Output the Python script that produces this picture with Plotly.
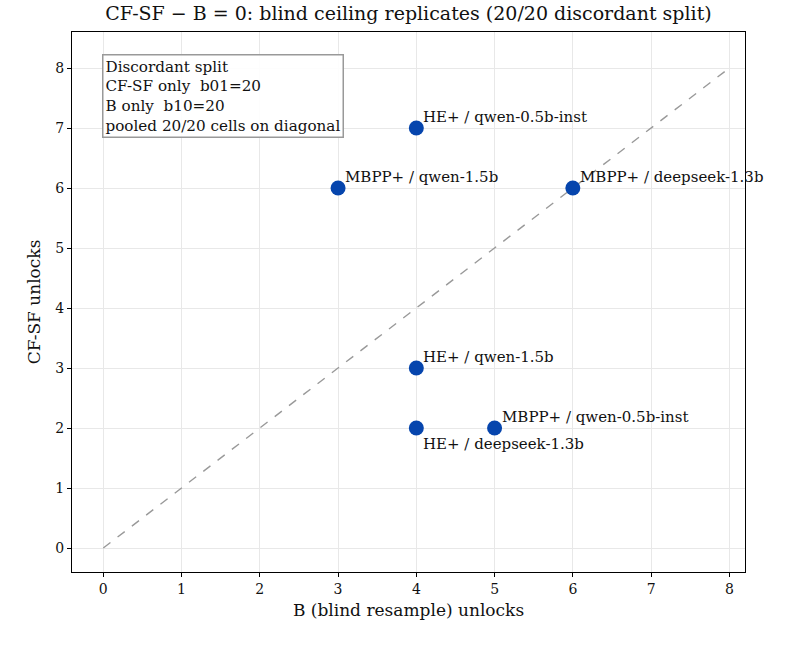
import plotly.graph_objects as go

b_unlocks = [4, 3, 6, 4, 4, 5]
cfsf_unlocks = [7, 6, 6, 3, 2, 2]
labels = ["HE+ / qwen-0.5b-inst", "MBPP+ / qwen-1.5b", "MBPP+ / deepseek-1.3b",
          "HE+ / qwen-1.5b", "HE+ / deepseek-1.3b", "MBPP+ / qwen-0.5b-inst"]
below = [False, False, False, False, True, False]
diag = [0, 8]
ticks = list(range(0, 9))

FONT = "DejaVu Serif"
fig = go.Figure()
fig.add_trace(go.Scatter(x=diag, y=diag, mode="lines",
                         line=dict(color="#999999", width=1.4, dash="dash"),
                         hoverinfo="skip", showlegend=False))
fig.add_trace(go.Scatter(x=b_unlocks, y=cfsf_unlocks, mode="markers",
                         marker=dict(color="#0645AD", size=15),
                         showlegend=False))
for x, y, t, bl in zip(b_unlocks, cfsf_unlocks, labels, below):
    fig.add_annotation(x=x, y=y, text=t, showarrow=False, xanchor="left",
                       yanchor="top" if bl else "bottom",
                       xshift=5, yshift=-5 if bl else 0,
                       font=dict(family=FONT, size=15, color="#111111"))

fig.add_annotation(xref="paper", yref="paper", x=0.044, y=0.96,
                   xanchor="left", yanchor="top", align="left", showarrow=False,
                   text="Discordant split<br>CF-SF only  b01=20<br>B only  b10=20<br>pooled 20/20 cells on diagonal",
                   font=dict(family=FONT, size=15.2, color="#111111"),
                   bordercolor="#999999", borderwidth=1.5, borderpad=2,
                   bgcolor="rgba(255,255,255,0.9)")

axis_common = dict(showline=True, linecolor="black", linewidth=1.3, mirror=True,
                   ticks="outside", ticklen=4, tickcolor="black",
                   showgrid=True, gridcolor="#e8e8e8", gridwidth=1, zeroline=False,
                   tickfont=dict(family=FONT, size=14, color="#111111"),
                   tickvals=ticks)
fig.update_xaxes(range=[-0.4, 8.2], title=dict(text="B (blind resample) unlocks",
                 font=dict(family=FONT, size=17, color="#111111"), standoff=8), **axis_common)
fig.update_yaxes(range=[-0.4, 8.6], title=dict(text="CF-SF unlocks",
                 font=dict(family=FONT, size=17, color="#111111"), standoff=10), **axis_common)

fig.update_layout(
    width=800, height=658,
    margin=dict(l=72, r=55, t=32, b=86),
    plot_bgcolor="white", paper_bgcolor="white",
    title=dict(text="CF-SF \u2212 B = 0: blind ceiling replicates (20/20 discordant split)",
               xref="paper", x=0.5, xanchor="center", y=0.99, yanchor="top",
               font=dict(family=FONT, size=19, color="#111111")),
)
fig.write_html("out.html")
